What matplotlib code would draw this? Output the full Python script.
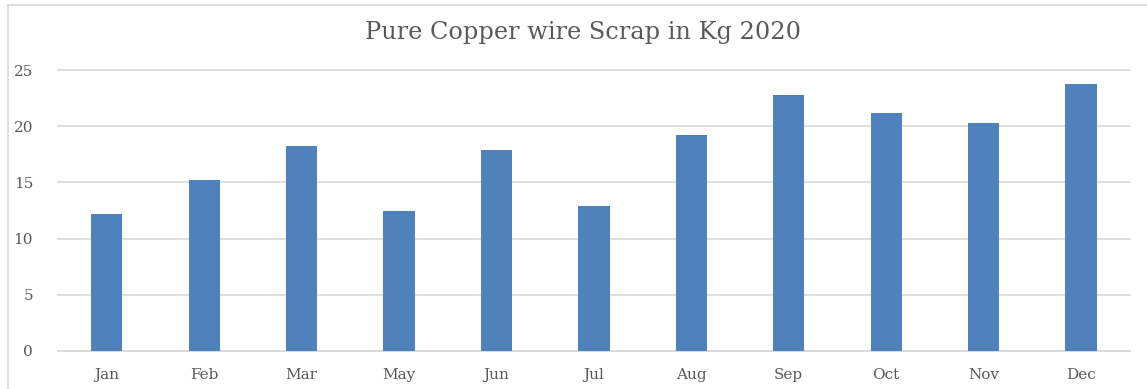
import matplotlib.pyplot as plt
from matplotlib.lines import Line2D

months = ['Jan', 'Feb', 'Mar', 'May', 'Jun', 'Jul', 'Aug', 'Sep', 'Oct', 'Nov', 'Dec']
scrap_kg = [12.2, 15.2, 18.2, 12.5, 17.9, 12.9, 19.2, 22.8, 21.2, 20.3, 23.8]
y_ticks = [0, 5, 10, 15, 20, 25]

plt.rcParams['font.family'] = ['DejaVu Serif']
text_color = '#595959'

fig = plt.figure(figsize=(11.47, 3.89), dpi=100)
ax = fig.add_axes([0.0506, 0.0977, 0.9344, 0.7223])

x = range(len(months))
ax.bar(x, scrap_kg, width=0.32, color='#4F81BD', zorder=3)

ax.set_xlim(-0.5, len(months) - 0.5)
ax.set_ylim(0, 25)
ax.set_yticks(y_ticks)
ax.set_xticks(list(x))
ax.set_xticklabels(months)
ax.grid(axis='y', color='#d9d9d9', linewidth=1.2, zorder=0)
for gl in ax.get_ygridlines():
    gl.set_clip_on(False)
ax.tick_params(axis='both', length=0, labelsize=11, colors=text_color)
ax.tick_params(axis='x', pad=12)
ax.tick_params(axis='y', pad=18)
for side in ['top', 'right', 'left']:
    ax.spines[side].set_visible(False)
ax.spines['bottom'].set_color('#d9d9d9')
ax.spines['bottom'].set_linewidth(1.2)

fig.text(0.508, 1 - 33 / 389, 'Pure Copper wire Scrap in Kg 2020',
         ha='center', va='center', fontsize=17.3, color=text_color)

# chart frame (left and top edges)
fig.add_artist(Line2D([8 / 1147, 8 / 1147], [0, 1 - 5 / 389], transform=fig.transFigure,
                      color='#d9d9d9', linewidth=1.2))
fig.add_artist(Line2D([8 / 1147, 1], [1 - 5 / 389, 1 - 5 / 389], transform=fig.transFigure,
                      color='#d9d9d9', linewidth=1.2))

fig.savefig('out.png', dpi=100, facecolor='white')
